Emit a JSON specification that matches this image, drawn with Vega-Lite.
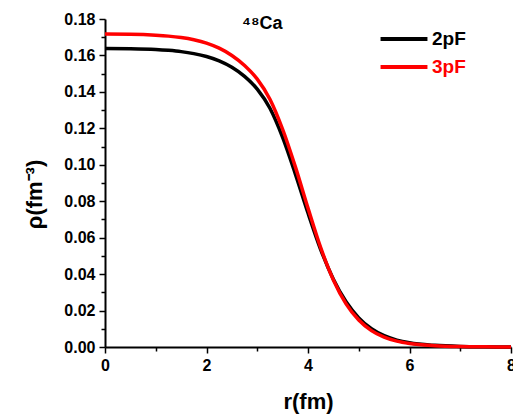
{
  "$schema": "https://vega.github.io/schema/vega-lite/v6.json",
  "width": 406,
  "height": 328,
  "autosize": {"type": "none"},
  "padding": {"left": 105, "top": 19, "right": 2, "bottom": 67},
  "background": "white",
  "config": {"view": {"stroke": null}, "font": "Liberation Sans"},
  "title": {"text": "⁴⁸Ca", "anchor": "start", "frame": "group", "dx": 137, "dy": 3, "offset": -19, "fontSize": 18, "fontWeight": "bold", "color": "black", "font": "Liberation Sans"},
  "data": {"values": [
    {"r": 0, "rho": 0.1638, "model": "2pF"},
    {"r": 0.5, "rho": 0.1637, "model": "2pF"},
    {"r": 1.0, "rho": 0.1633, "model": "2pF"},
    {"r": 1.25, "rho": 0.1628, "model": "2pF"},
    {"r": 1.5, "rho": 0.1621, "model": "2pF"},
    {"r": 1.75, "rho": 0.1610, "model": "2pF"},
    {"r": 2.0, "rho": 0.1594, "model": "2pF"},
    {"r": 2.25, "rho": 0.1570, "model": "2pF"},
    {"r": 2.5, "rho": 0.1535, "model": "2pF"},
    {"r": 2.75, "rho": 0.1485, "model": "2pF"},
    {"r": 3.0, "rho": 0.1415, "model": "2pF"},
    {"r": 3.25, "rho": 0.1310, "model": "2pF"},
    {"r": 3.5, "rho": 0.1150, "model": "2pF"},
    {"r": 3.75, "rho": 0.0950, "model": "2pF"},
    {"r": 4.0, "rho": 0.0735, "model": "2pF"},
    {"r": 4.25, "rho": 0.0535, "model": "2pF"},
    {"r": 4.5, "rho": 0.0372, "model": "2pF"},
    {"r": 4.75, "rho": 0.0248, "model": "2pF"},
    {"r": 5.0, "rho": 0.0160, "model": "2pF"},
    {"r": 5.25, "rho": 0.0100, "model": "2pF"},
    {"r": 5.5, "rho": 0.0062, "model": "2pF"},
    {"r": 5.75, "rho": 0.0038, "model": "2pF"},
    {"r": 6.0, "rho": 0.0023, "model": "2pF"},
    {"r": 6.5, "rho": 0.0009, "model": "2pF"},
    {"r": 7.0, "rho": 0.0003, "model": "2pF"},
    {"r": 7.5, "rho": 0.0001, "model": "2pF"},
    {"r": 8.0, "rho": 0.00004, "model": "2pF"},
    {"r": 0, "rho": 0.1717, "model": "3pF"},
    {"r": 0.5, "rho": 0.1716, "model": "3pF"},
    {"r": 1.0, "rho": 0.1711, "model": "3pF"},
    {"r": 1.25, "rho": 0.1706, "model": "3pF"},
    {"r": 1.5, "rho": 0.1698, "model": "3pF"},
    {"r": 1.75, "rho": 0.1686, "model": "3pF"},
    {"r": 2.0, "rho": 0.1668, "model": "3pF"},
    {"r": 2.25, "rho": 0.1640, "model": "3pF"},
    {"r": 2.5, "rho": 0.1600, "model": "3pF"},
    {"r": 2.75, "rho": 0.1545, "model": "3pF"},
    {"r": 3.0, "rho": 0.1470, "model": "3pF"},
    {"r": 3.25, "rho": 0.1360, "model": "3pF"},
    {"r": 3.5, "rho": 0.1195, "model": "3pF"},
    {"r": 3.75, "rho": 0.0990, "model": "3pF"},
    {"r": 4.0, "rho": 0.0762, "model": "3pF"},
    {"r": 4.25, "rho": 0.0545, "model": "3pF"},
    {"r": 4.5, "rho": 0.0368, "model": "3pF"},
    {"r": 4.75, "rho": 0.0237, "model": "3pF"},
    {"r": 5.0, "rho": 0.0148, "model": "3pF"},
    {"r": 5.25, "rho": 0.0090, "model": "3pF"},
    {"r": 5.5, "rho": 0.0054, "model": "3pF"},
    {"r": 5.75, "rho": 0.0032, "model": "3pF"},
    {"r": 6.0, "rho": 0.0019, "model": "3pF"},
    {"r": 6.5, "rho": 0.0007, "model": "3pF"},
    {"r": 7.0, "rho": 0.00023, "model": "3pF"},
    {"r": 7.5, "rho": 0.00008, "model": "3pF"},
    {"r": 8.0, "rho": 0.00003, "model": "3pF"}
  ]},
  "layer": [
    {
      "mark": {"type": "line", "strokeWidth": 3.5, "interpolate": "monotone"},
      "encoding": {
        "x": {"field": "r", "type": "quantitative", "scale": {"domain": [0, 8], "nice": false},
          "axis": {"orient": "bottom", "values": [0, 2, 4, 6, 8], "grid": false, "tickSize": 6, "tickWidth": 1.5, "tickColor": "black",
            "domainColor": "black", "domainWidth": 2, "labelFontSize": 16, "labelFontWeight": "bold", "labelColor": "black",
            "labelPadding": 4, "labelFlush": false, "title": "r(fm)", "titleFontSize": 22, "titleFontWeight": "bold", "titleColor": "black", "titlePadding": 18}},
        "y": {"field": "rho", "type": "quantitative", "scale": {"domain": [0, 0.18], "nice": false},
          "axis": {"orient": "left", "values": [0, 0.02, 0.04, 0.06, 0.08, 0.1, 0.12, 0.14, 0.16, 0.18], "format": ".2f", "grid": false, "tickSize": 6, "tickWidth": 1.5, "tickColor": "black",
            "domainColor": "black", "domainWidth": 2, "labelFontSize": 16, "labelFontWeight": "bold", "labelColor": "black",
            "labelPadding": 4, "title": "ρ(fm⁻³)", "titleFontSize": 22, "titleFontWeight": "bold", "titleColor": "black", "titlePadding": 17, "titleY": 175, "titleAlign": "center"}},
        "color": {"field": "model", "type": "nominal", "scale": {"domain": ["2pF", "3pF"], "range": ["#000000", "#ff0000"]},
          "legend": {"orient": "none", "legendX": 285, "legendY": 6, "title": null, "symbolType": "M-2,0H2", "symbolSize": 550, "symbolStrokeWidth": 4,
            "labelFontSize": 19, "labelFontWeight": "bold", "labelOffset": 14, "rowPadding": 4,
            "encode": {"labels": {"update": {"fill": {"signal": "datum.value === '3pF' ? '#ff0000' : '#000000'"}}}}}}
      }
    },
    {
      "mark": {"type": "point", "opacity": 0},
      "encoding": {
        "x": {"field": "r", "type": "quantitative",
          "axis": {"orient": "bottom", "values": [1, 3, 5, 7], "grid": false, "tickSize": 4, "tickWidth": 1.5, "tickColor": "black", "domain": false, "labels": false, "title": null}},
        "y": {"field": "rho", "type": "quantitative",
          "axis": {"orient": "left", "values": [0.01, 0.03, 0.05, 0.07, 0.09, 0.11, 0.13, 0.15, 0.17], "grid": false, "tickSize": 4, "tickWidth": 1.5, "tickColor": "black", "domain": false, "labels": false, "title": null}}
      }
    }
  ],
  "resolve": {"axis": {"x": "independent", "y": "independent"}}
}
